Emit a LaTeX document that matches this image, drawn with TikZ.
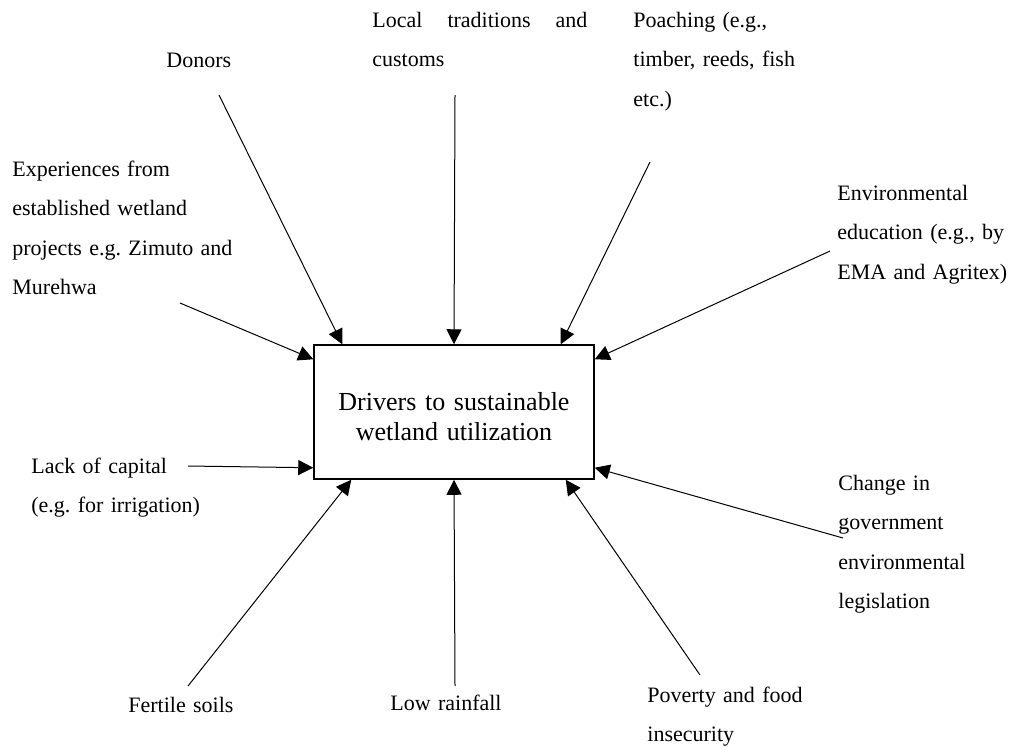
\documentclass[tikz,border=0pt]{standalone}
\usepackage{fontspec}
\setmainfont{Liberation Serif}
\usetikzlibrary{arrows.meta}
\tikzset{
  drv/.style={font=\fontsize{11}{19.75}\selectfont\frenchspacing, inner sep=0pt, anchor=base west, align=left, text width=115pt},
  drvR/.style={drv, text width=88pt},
  hub/.style={draw, line width=0.75pt, minimum width=140pt, minimum height=67pt, text width=120pt, text height=14pt, align=center, font=\fontsize{13}{15}\selectfont},
  feed/.style={line width=0.5pt, -{Triangle[length=7.5pt, width=7.5pt]}},
}

\begin{document}
\begin{tikzpicture}[x=0.5pt, y=-0.5pt]
\useasboundingbox (0,0) rectangle (1010,746);
\node[hub] (hub) at (454,412) {Drivers to sustainable\\wetland utilization};
\node[drv] (donors) at (166,67) {Donors};
\node[drv, text width=107.5pt] (local) at (372,27) {Local\hfill traditions\hfill and\\customs};
\node[drvR] (poach) at (633,27) {Poaching (e.g.,\\timber, reeds, fish\\etc.)};
\node[drv] (exper) at (12,176) {Experiences from\\established wetland\\projects e.g. Zimuto and\\Murehwa};
\node[drvR] (envedu) at (837,200) {Environmental\\education (e.g., by\\EMA and Agritex)};
\node[drv] (capital) at (31,473) {Lack of capital\\(e.g. for irrigation)};
\node[drvR] (govt) at (838,490) {Change in\\government\\environmental\\legislation};
\node[drv] (soils) at (128,712) {Fertile soils};
\node[drv] (rain) at (390,710) {Low rainfall};
\node[drvR] (poverty) at (647,702) {Poverty and food\\insecurity};
\coordinate (sDonors) at (219,95);
\coordinate (sLocal) at (455,95);
\coordinate (sPoach) at (650,162);
\coordinate (sEnvedu) at (830,251);
\coordinate (sExper) at (180,303);
\coordinate (sCapital) at (188,466);
\coordinate (sGovt) at (843,538);
\coordinate (sSoils) at (188,686);
\coordinate (sRain) at (455,686);
\coordinate (sPoverty) at (700,675);
\draw[feed] (sDonors) -- ([xshift=14.5pt]hub.north west);
\draw[feed] (sLocal) -- (hub.north);
\draw[feed] (sPoach) -- ([xshift=-17pt]hub.north east);
\draw[feed] (sEnvedu) -- ([yshift=-7.5pt]hub.north east);
\draw[feed] (sExper) -- ([yshift=-7.5pt]hub.north west);
\draw[feed] (sCapital) -- ([yshift=6pt]hub.south west);
\draw[feed] (sGovt) -- ([yshift=6pt]hub.south east);
\draw[feed] (sSoils) -- ([xshift=19pt]hub.south west);
\draw[feed] (sRain) -- (hub.south);
\draw[feed] (sPoverty) -- ([xshift=-14.5pt]hub.south east);
\end{tikzpicture}
\end{document}
